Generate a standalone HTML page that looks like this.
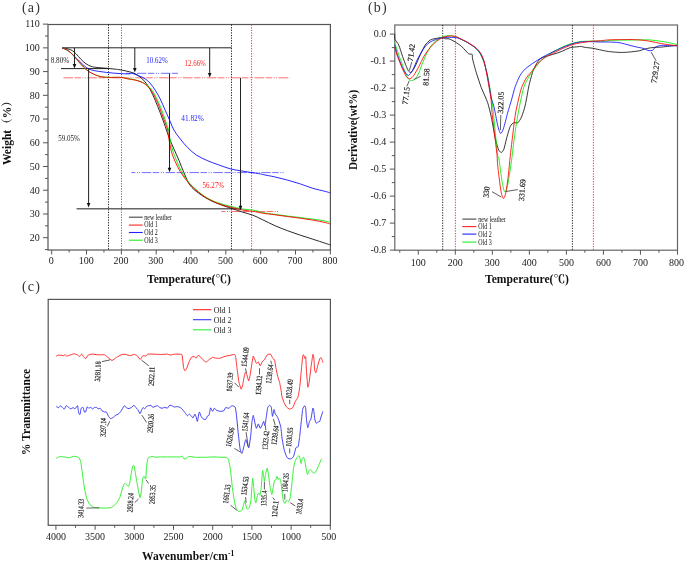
<!DOCTYPE html>
<html><head><meta charset="utf-8"><title>Figure</title>
<style>html,body{margin:0;padding:0;background:#fff}svg{display:block;font-family:"Liberation Serif",serif}</style>
</head><body>
<svg width="685" height="562" viewBox="0 0 685 562">
<rect width="685" height="562" fill="#fff"/>
<rect x="48.0" y="24.5" width="282.4" height="225.5" fill="none" stroke="#555" stroke-width="1.2"/>
<line x1="43.00" y1="237.70" x2="48.00" y2="237.70" stroke="#555" stroke-width="1" />
<text x="39.80" y="241.00" font-size="10" text-anchor="end" fill="#222" >20</text>
<line x1="43.00" y1="213.97" x2="48.00" y2="213.97" stroke="#555" stroke-width="1" />
<text x="39.80" y="217.27" font-size="10" text-anchor="end" fill="#222" >30</text>
<line x1="43.00" y1="190.24" x2="48.00" y2="190.24" stroke="#555" stroke-width="1" />
<text x="39.80" y="193.54" font-size="10" text-anchor="end" fill="#222" >40</text>
<line x1="43.00" y1="166.51" x2="48.00" y2="166.51" stroke="#555" stroke-width="1" />
<text x="39.80" y="169.81" font-size="10" text-anchor="end" fill="#222" >50</text>
<line x1="43.00" y1="142.78" x2="48.00" y2="142.78" stroke="#555" stroke-width="1" />
<text x="39.80" y="146.08" font-size="10" text-anchor="end" fill="#222" >60</text>
<line x1="43.00" y1="119.05" x2="48.00" y2="119.05" stroke="#555" stroke-width="1" />
<text x="39.80" y="122.35" font-size="10" text-anchor="end" fill="#222" >70</text>
<line x1="43.00" y1="95.32" x2="48.00" y2="95.32" stroke="#555" stroke-width="1" />
<text x="39.80" y="98.62" font-size="10" text-anchor="end" fill="#222" >80</text>
<line x1="43.00" y1="71.59" x2="48.00" y2="71.59" stroke="#555" stroke-width="1" />
<text x="39.80" y="74.89" font-size="10" text-anchor="end" fill="#222" >90</text>
<line x1="43.00" y1="47.86" x2="48.00" y2="47.86" stroke="#555" stroke-width="1" />
<text x="39.80" y="51.16" font-size="10" text-anchor="end" fill="#222" >100</text>
<line x1="43.00" y1="24.13" x2="48.00" y2="24.13" stroke="#555" stroke-width="1" />
<text x="39.80" y="27.43" font-size="10" text-anchor="end" fill="#222" >110</text>
<line x1="45.00" y1="249.56" x2="48.00" y2="249.56" stroke="#555" stroke-width="1" />
<line x1="45.00" y1="225.83" x2="48.00" y2="225.83" stroke="#555" stroke-width="1" />
<line x1="45.00" y1="202.10" x2="48.00" y2="202.10" stroke="#555" stroke-width="1" />
<line x1="45.00" y1="178.38" x2="48.00" y2="178.38" stroke="#555" stroke-width="1" />
<line x1="45.00" y1="154.64" x2="48.00" y2="154.64" stroke="#555" stroke-width="1" />
<line x1="45.00" y1="130.91" x2="48.00" y2="130.91" stroke="#555" stroke-width="1" />
<line x1="45.00" y1="107.18" x2="48.00" y2="107.18" stroke="#555" stroke-width="1" />
<line x1="45.00" y1="83.45" x2="48.00" y2="83.45" stroke="#555" stroke-width="1" />
<line x1="45.00" y1="59.72" x2="48.00" y2="59.72" stroke="#555" stroke-width="1" />
<line x1="45.00" y1="35.99" x2="48.00" y2="35.99" stroke="#555" stroke-width="1" />
<line x1="51.70" y1="250.00" x2="51.70" y2="254.50" stroke="#555" stroke-width="1" />
<text x="51.30" y="264.20" font-size="10" text-anchor="middle" fill="#222" >0</text>
<line x1="86.53" y1="250.00" x2="86.53" y2="254.50" stroke="#555" stroke-width="1" />
<text x="86.13" y="264.20" font-size="10" text-anchor="middle" fill="#222" >100</text>
<line x1="121.36" y1="250.00" x2="121.36" y2="254.50" stroke="#555" stroke-width="1" />
<text x="120.96" y="264.20" font-size="10" text-anchor="middle" fill="#222" >200</text>
<line x1="156.19" y1="250.00" x2="156.19" y2="254.50" stroke="#555" stroke-width="1" />
<text x="155.79" y="264.20" font-size="10" text-anchor="middle" fill="#222" >300</text>
<line x1="191.02" y1="250.00" x2="191.02" y2="254.50" stroke="#555" stroke-width="1" />
<text x="190.62" y="264.20" font-size="10" text-anchor="middle" fill="#222" >400</text>
<line x1="225.85" y1="250.00" x2="225.85" y2="254.50" stroke="#555" stroke-width="1" />
<text x="225.45" y="264.20" font-size="10" text-anchor="middle" fill="#222" >500</text>
<line x1="260.68" y1="250.00" x2="260.68" y2="254.50" stroke="#555" stroke-width="1" />
<text x="260.28" y="264.20" font-size="10" text-anchor="middle" fill="#222" >600</text>
<line x1="295.51" y1="250.00" x2="295.51" y2="254.50" stroke="#555" stroke-width="1" />
<text x="295.11" y="264.20" font-size="10" text-anchor="middle" fill="#222" >700</text>
<line x1="330.34" y1="250.00" x2="330.34" y2="254.50" stroke="#555" stroke-width="1" />
<text x="329.94" y="264.20" font-size="10" text-anchor="middle" fill="#222" >800</text>
<line x1="69.12" y1="250.00" x2="69.12" y2="252.50" stroke="#555" stroke-width="1" />
<line x1="103.94" y1="250.00" x2="103.94" y2="252.50" stroke="#555" stroke-width="1" />
<line x1="138.78" y1="250.00" x2="138.78" y2="252.50" stroke="#555" stroke-width="1" />
<line x1="173.61" y1="250.00" x2="173.61" y2="252.50" stroke="#555" stroke-width="1" />
<line x1="208.44" y1="250.00" x2="208.44" y2="252.50" stroke="#555" stroke-width="1" />
<line x1="243.26" y1="250.00" x2="243.26" y2="252.50" stroke="#555" stroke-width="1" />
<line x1="278.10" y1="250.00" x2="278.10" y2="252.50" stroke="#555" stroke-width="1" />
<line x1="312.93" y1="250.00" x2="312.93" y2="252.50" stroke="#555" stroke-width="1" />
<line x1="108.50" y1="24.50" x2="108.50" y2="250.00" stroke="#111" stroke-width="1" stroke-dasharray="1.3 1.3" stroke-opacity="0.9"/>
<line x1="121.50" y1="24.50" x2="121.50" y2="250.00" stroke="#f22" stroke-width="1" stroke-dasharray="1.3 1.3" stroke-opacity="0.9"/>
<line x1="231.50" y1="24.50" x2="231.50" y2="250.00" stroke="#111" stroke-width="1" stroke-dasharray="1.3 1.3" stroke-opacity="0.9"/>
<line x1="251.60" y1="24.50" x2="251.60" y2="250.00" stroke="#f22" stroke-width="1" stroke-dasharray="1.3 1.3" stroke-opacity="0.9"/>
<line x1="62.30" y1="47.80" x2="231.50" y2="47.80" stroke="#222" stroke-width="1" />
<line x1="61.00" y1="68.60" x2="108.50" y2="68.60" stroke="#222" stroke-width="1" />
<line x1="76.60" y1="208.80" x2="240.50" y2="208.80" stroke="#666" stroke-width="1.4" />
<line x1="63.50" y1="77.80" x2="290.00" y2="77.80" stroke="#f22" stroke-width="0.9" stroke-dasharray="9.5 1.5 6.5 1.6 1 1.2 1 1.6" stroke-opacity="0.72"/>
<line x1="126.00" y1="73.30" x2="178.00" y2="73.30" stroke="#22f" stroke-width="0.9" stroke-dasharray="9.5 1.5 6.5 1.6 1 1.2 1 1.6" stroke-opacity="0.72" stroke-dashoffset="13"/>
<line x1="131.30" y1="172.60" x2="283.70" y2="172.60" stroke="#22f" stroke-width="0.9" stroke-dasharray="9.5 1.5 6.5 1.6 1 1.2 1 1.6" stroke-opacity="0.72" stroke-dashoffset="13.5"/>
<line x1="221.40" y1="211.50" x2="278.80" y2="211.50" stroke="#f22" stroke-width="0.9" stroke-dasharray="9.5 1.5 6.5 1.6 1 1.2 1 1.6" stroke-opacity="0.72" stroke-dashoffset="13.5"/>
<path d="M62.28,48.16 C63.32,48.31 66.88,48.62 68.55,49.04 C70.23,49.46 71.07,49.88 72.32,50.67 C73.58,51.47 74.62,52.35 76.09,53.81 C77.55,55.28 79.44,57.79 81.11,59.46 C82.78,61.13 84.46,62.70 86.13,63.85 C87.81,65.01 89.48,65.78 91.15,66.37 C92.83,66.95 93.66,67.06 96.18,67.37 C98.69,67.68 103.08,67.96 106.22,68.25 C109.36,68.54 112.71,68.87 115.01,69.13 C117.30,69.38 118.12,69.47 120.00,69.79 C121.88,70.11 123.98,70.48 126.28,71.05 C128.58,71.61 131.51,72.20 133.81,73.18 C136.11,74.17 138.20,75.48 140.09,76.95 C141.97,78.41 143.44,79.88 145.11,81.97 C146.78,84.06 148.46,86.47 150.13,89.50 C151.81,92.54 153.48,96.30 155.15,100.18 C156.83,104.05 158.71,108.96 160.18,112.73 C161.64,116.50 162.90,119.89 163.94,122.77 C164.99,125.66 165.42,127.17 166.45,130.06 C167.48,132.94 168.89,136.95 170.13,140.09 C171.37,143.22 172.43,145.53 173.90,148.88 C175.36,152.22 177.25,156.20 178.92,160.18 C180.59,164.15 182.09,168.57 183.94,172.73 C185.80,176.89 187.56,181.72 190.04,185.15 C192.53,188.58 195.28,190.70 198.83,193.31 C202.39,195.93 207.20,198.75 211.39,200.85 C215.57,202.94 220.39,204.55 223.94,205.87 C227.50,207.19 229.59,207.71 232.73,208.76 C235.87,209.80 239.43,211.08 242.77,212.15 C246.12,213.21 249.52,213.90 252.82,215.16 C256.12,216.42 258.84,217.95 262.55,219.71 C266.27,221.47 270.92,223.90 275.11,225.74 C279.29,227.58 283.48,229.19 287.66,230.76 C291.85,232.33 296.03,233.75 300.22,235.15 C304.40,236.56 308.59,237.81 312.77,239.17 C316.96,240.53 322.40,242.35 325.33,243.31 C328.26,244.28 329.51,244.67 330.35,244.95" fill="none" stroke="#111" stroke-width="0.9" stroke-linejoin="round" />
<path d="M62.28,48.16 C62.91,48.37 64.79,48.79 66.04,49.42 C67.30,50.04 68.55,50.92 69.81,51.93 C71.07,52.93 72.32,54.25 73.58,55.44 C74.83,56.64 76.09,57.85 77.34,59.08 C78.60,60.32 79.65,61.47 81.11,62.85 C82.57,64.23 84.46,66.20 86.13,67.37 C87.81,68.54 89.06,69.21 91.15,69.88 C93.25,70.55 96.18,70.97 98.69,71.39 C101.20,71.81 103.71,72.10 106.22,72.39 C108.73,72.68 111.24,72.94 113.75,73.15 C116.26,73.35 118.77,73.52 121.29,73.65 C123.80,73.77 126.94,73.91 128.82,73.90 C130.70,73.88 130.68,73.16 132.55,73.56 C134.43,73.96 138.00,75.44 140.09,76.32 C142.18,77.20 143.44,77.68 145.11,78.83 C146.78,79.98 148.46,81.34 150.13,83.23 C151.81,85.11 153.48,87.52 155.15,90.13 C156.83,92.75 158.50,95.57 160.18,98.92 C161.85,102.27 163.52,106.45 165.20,110.22 C166.87,113.99 168.77,118.22 170.22,121.52 C171.67,124.82 172.24,127.16 173.90,130.04 C175.56,132.93 177.87,135.90 180.18,138.83 C182.48,141.76 184.99,144.90 187.71,147.62 C190.43,150.34 193.15,152.96 196.50,155.15 C199.85,157.35 204.24,159.23 207.80,160.80 C211.35,162.37 214.10,163.23 217.84,164.57 C221.58,165.91 226.48,167.81 230.22,168.83 C233.96,169.86 236.92,170.13 240.26,170.72 C243.61,171.30 246.96,171.82 250.31,172.35 C253.66,172.87 258.31,173.50 260.35,173.85 C262.39,174.21 260.10,173.96 262.55,174.48 C265.01,175.01 270.92,176.05 275.11,176.99 C279.29,177.93 283.48,178.98 287.66,180.13 C291.85,181.28 296.03,182.54 300.22,183.90 C304.40,185.26 308.59,187.04 312.77,188.29 C316.96,189.55 322.40,190.66 325.33,191.43 C328.26,192.21 329.51,192.69 330.35,192.94" fill="none" stroke="#11f" stroke-width="0.9" stroke-linejoin="round" />
<path d="M62.28,48.16 C62.91,48.37 64.79,48.79 66.04,49.42 C67.30,50.04 68.55,50.88 69.81,51.93 C71.07,52.97 72.32,54.33 73.58,55.69 C74.83,57.05 76.09,58.62 77.34,60.09 C78.60,61.55 79.65,62.91 81.11,64.48 C82.57,66.05 84.46,68.10 86.13,69.50 C87.81,70.91 89.48,71.95 91.15,72.89 C92.83,73.84 94.50,74.53 96.18,75.15 C97.85,75.78 99.11,76.28 101.20,76.66 C103.29,77.04 105.38,77.29 108.73,77.41 C112.08,77.54 118.15,77.22 121.29,77.41 C124.42,77.61 125.24,78.18 127.53,78.58 C129.83,78.99 132.55,79.21 135.07,79.84 C137.58,80.46 140.40,81.30 142.60,82.35 C144.80,83.39 146.41,84.40 148.25,86.11 C150.09,87.83 151.91,89.88 153.65,92.64 C155.38,95.40 157.16,99.34 158.67,102.69 C160.18,106.03 161.43,109.38 162.69,112.73 C163.94,116.08 165.20,119.89 166.20,122.77 C167.21,125.66 168.16,127.80 168.71,130.06 C169.26,132.31 168.85,132.98 169.50,136.32 C170.16,139.67 171.49,146.16 172.64,150.13 C173.79,154.11 174.94,156.62 176.41,160.18 C177.87,163.73 179.65,168.17 181.43,171.48 C183.21,174.78 185.16,177.46 187.08,180.01 C189.01,182.57 189.98,184.01 192.98,186.79 C195.99,189.57 201.00,194.05 205.11,196.70 C209.22,199.36 213.48,201.14 217.66,202.73 C221.85,204.32 226.03,205.20 230.22,206.25 C234.40,207.29 238.59,208.30 242.77,209.01 C246.96,209.72 252.03,209.92 255.33,210.51 C258.63,211.11 259.26,211.90 262.55,212.55 C265.85,213.21 270.92,213.85 275.11,214.44 C279.29,215.02 283.48,215.55 287.66,216.07 C291.85,216.59 296.03,217.07 300.22,217.58 C304.40,218.08 308.59,218.50 312.77,219.08 C316.96,219.67 322.40,220.55 325.33,221.09 C328.26,221.64 329.51,222.14 330.35,222.35" fill="none" stroke="#0e0" stroke-width="0.9" stroke-linejoin="round" />
<path d="M62.28,48.16 C62.91,48.37 64.79,48.79 66.04,49.42 C67.30,50.04 68.55,50.88 69.81,51.93 C71.07,52.97 72.32,54.33 73.58,55.69 C74.83,57.05 76.09,58.62 77.34,60.09 C78.60,61.55 79.65,62.91 81.11,64.48 C82.57,66.05 84.46,68.10 86.13,69.50 C87.81,70.91 89.48,71.95 91.15,72.89 C92.83,73.84 94.50,74.53 96.18,75.15 C97.85,75.78 99.11,76.28 101.20,76.66 C103.29,77.04 105.38,77.29 108.73,77.41 C112.08,77.54 118.15,77.18 121.29,77.41 C124.42,77.65 125.24,78.39 127.53,78.83 C129.83,79.28 132.55,79.46 135.07,80.09 C137.58,80.72 140.51,81.55 142.60,82.60 C144.69,83.65 145.95,84.69 147.62,86.37 C149.29,88.04 150.97,89.92 152.64,92.64 C154.32,95.36 156.20,99.34 157.66,102.69 C159.13,106.03 160.18,109.38 161.43,112.73 C162.69,116.08 164.15,119.89 165.20,122.77 C166.24,125.66 167.20,128.01 167.71,130.06 C168.22,132.11 167.64,131.51 168.25,135.07 C168.86,138.62 170.24,146.99 171.39,151.39 C172.54,155.78 173.69,158.08 175.15,161.43 C176.62,164.78 178.29,168.34 180.18,171.48 C182.06,174.61 184.36,177.65 186.45,180.26 C188.55,182.88 189.62,184.37 192.73,187.17 C195.84,189.97 200.95,194.38 205.11,197.08 C209.27,199.78 213.48,201.68 217.66,203.36 C221.85,205.03 226.03,206.02 230.22,207.12 C234.40,208.23 238.59,209.24 242.77,210.01 C246.96,210.79 252.03,211.24 255.33,211.77 C258.63,212.30 259.26,212.68 262.55,213.18 C265.85,213.69 270.92,214.25 275.11,214.81 C279.29,215.38 283.48,216.01 287.66,216.57 C291.85,217.14 296.03,217.62 300.22,218.20 C304.40,218.79 308.59,219.36 312.77,220.09 C316.96,220.82 322.40,221.93 325.33,222.60 C328.26,223.27 329.51,223.85 330.35,224.11" fill="none" stroke="#f00" stroke-width="0.9" stroke-linejoin="round" />
<line x1="74.50" y1="47.80" x2="74.50" y2="65.40" stroke="#222" stroke-width="1" />
<path d="M72.70,63.90 L76.30,63.90 L74.50,68.40 Z" fill="#111"/>
<line x1="88.60" y1="68.60" x2="88.60" y2="204.50" stroke="#222" stroke-width="1" />
<path d="M86.80,203.00 L90.40,203.00 L88.60,207.50 Z" fill="#111"/>
<line x1="134.80" y1="47.80" x2="134.80" y2="69.60" stroke="#222" stroke-width="1" />
<path d="M133.00,68.10 L136.60,68.10 L134.80,72.60 Z" fill="#111"/>
<line x1="209.70" y1="47.80" x2="209.70" y2="74.40" stroke="#222" stroke-width="1" />
<path d="M207.90,72.90 L211.50,72.90 L209.70,77.40 Z" fill="#111"/>
<line x1="169.50" y1="73.30" x2="169.50" y2="169.20" stroke="#222" stroke-width="1" />
<path d="M167.70,167.70 L171.30,167.70 L169.50,172.20 Z" fill="#111"/>
<line x1="240.50" y1="77.80" x2="240.50" y2="207.30" stroke="#222" stroke-width="1" />
<path d="M238.70,205.80 L242.30,205.80 L240.50,210.30 Z" fill="#111"/>
<text x="60.00" y="63.00" font-size="8" text-anchor="middle" fill="#222" textLength="18.5" lengthAdjust="spacingAndGlyphs" >8.80%</text>
<text x="69.00" y="141.30" font-size="8" text-anchor="middle" fill="#222" textLength="21.6" lengthAdjust="spacingAndGlyphs" >59.05%</text>
<text x="157.00" y="62.50" font-size="8" text-anchor="middle" fill="#22f" textLength="21.3" lengthAdjust="spacingAndGlyphs" >10.62%</text>
<text x="195.20" y="65.50" font-size="8" text-anchor="middle" fill="#f22" textLength="21.3" lengthAdjust="spacingAndGlyphs" >12.66%</text>
<text x="192.60" y="120.70" font-size="8" text-anchor="middle" fill="#22f" textLength="22.5" lengthAdjust="spacingAndGlyphs" >41.82%</text>
<text x="213.40" y="187.90" font-size="8" text-anchor="middle" fill="#f22" textLength="21.6" lengthAdjust="spacingAndGlyphs" >56.27%</text>
<line x1="128.90" y1="217.20" x2="142.70" y2="217.20" stroke="#444" stroke-width="1.1" />
<text x="144.30" y="219.50" font-size="7.6" text-anchor="start" fill="#111" textLength="27.6" lengthAdjust="spacingAndGlyphs" >new leather</text>
<line x1="128.90" y1="225.10" x2="142.70" y2="225.10" stroke="#f22" stroke-width="1.1" />
<text x="144.30" y="227.40" font-size="7.6" text-anchor="start" fill="#111" textLength="13.5" lengthAdjust="spacingAndGlyphs" >Old 1</text>
<line x1="128.90" y1="232.50" x2="142.70" y2="232.50" stroke="#22f" stroke-width="1.1" />
<text x="144.30" y="234.80" font-size="7.6" text-anchor="start" fill="#111" textLength="13.5" lengthAdjust="spacingAndGlyphs" >Old 2</text>
<line x1="128.90" y1="240.20" x2="142.70" y2="240.20" stroke="#2e2" stroke-width="1.1" />
<text x="144.30" y="242.50" font-size="7.6" text-anchor="start" fill="#111" textLength="13.5" lengthAdjust="spacingAndGlyphs" >Old 3</text>
<text x="189.00" y="283.00" font-size="11.5" text-anchor="middle" fill="#111" font-weight="bold" textLength="84.0" lengthAdjust="spacingAndGlyphs" font-family="Liberation Serif, Noto Serif CJK SC, serif">Temperature(℃)</text>
<text transform="translate(11 165) rotate(-90)" font-size="11.5" font-weight="bold" fill="#111" font-family="Liberation Serif, Noto Serif CJK SC, serif">Weight（%）</text>
<text x="22" y="12.3" font-size="14" fill="#333" letter-spacing="1.2">(a)</text>
<rect x="394.8" y="25.0" width="282.7" height="225.2" fill="none" stroke="#666" stroke-width="1.2"/>
<line x1="389.80" y1="34.10" x2="394.80" y2="34.10" stroke="#555" stroke-width="1" />
<text x="386.30" y="37.40" font-size="10" text-anchor="end" fill="#222" >0.0</text>
<line x1="389.80" y1="61.10" x2="394.80" y2="61.10" stroke="#555" stroke-width="1" />
<text x="386.30" y="64.40" font-size="10" text-anchor="end" fill="#222" >-0.1</text>
<line x1="389.80" y1="88.10" x2="394.80" y2="88.10" stroke="#555" stroke-width="1" />
<text x="386.30" y="91.40" font-size="10" text-anchor="end" fill="#222" >-0.2</text>
<line x1="389.80" y1="115.10" x2="394.80" y2="115.10" stroke="#555" stroke-width="1" />
<text x="386.30" y="118.40" font-size="10" text-anchor="end" fill="#222" >-0.3</text>
<line x1="389.80" y1="142.10" x2="394.80" y2="142.10" stroke="#555" stroke-width="1" />
<text x="386.30" y="145.40" font-size="10" text-anchor="end" fill="#222" >-0.4</text>
<line x1="389.80" y1="169.10" x2="394.80" y2="169.10" stroke="#555" stroke-width="1" />
<text x="386.30" y="172.40" font-size="10" text-anchor="end" fill="#222" >-0.5</text>
<line x1="389.80" y1="196.10" x2="394.80" y2="196.10" stroke="#555" stroke-width="1" />
<text x="386.30" y="199.40" font-size="10" text-anchor="end" fill="#222" >-0.6</text>
<line x1="389.80" y1="223.10" x2="394.80" y2="223.10" stroke="#555" stroke-width="1" />
<text x="386.30" y="226.40" font-size="10" text-anchor="end" fill="#222" >-0.7</text>
<line x1="389.80" y1="250.10" x2="394.80" y2="250.10" stroke="#555" stroke-width="1" />
<text x="386.30" y="253.40" font-size="10" text-anchor="end" fill="#222" >-0.8</text>
<line x1="391.80" y1="47.60" x2="394.80" y2="47.60" stroke="#555" stroke-width="1" />
<line x1="391.80" y1="74.60" x2="394.80" y2="74.60" stroke="#555" stroke-width="1" />
<line x1="391.80" y1="101.60" x2="394.80" y2="101.60" stroke="#555" stroke-width="1" />
<line x1="391.80" y1="128.60" x2="394.80" y2="128.60" stroke="#555" stroke-width="1" />
<line x1="391.80" y1="155.60" x2="394.80" y2="155.60" stroke="#555" stroke-width="1" />
<line x1="391.80" y1="182.60" x2="394.80" y2="182.60" stroke="#555" stroke-width="1" />
<line x1="391.80" y1="209.60" x2="394.80" y2="209.60" stroke="#555" stroke-width="1" />
<line x1="391.80" y1="236.60" x2="394.80" y2="236.60" stroke="#555" stroke-width="1" />
<line x1="418.27" y1="250.20" x2="418.27" y2="254.70" stroke="#555" stroke-width="1" />
<text x="418.27" y="265.90" font-size="10" text-anchor="middle" fill="#222" >100</text>
<line x1="455.30" y1="250.20" x2="455.30" y2="254.70" stroke="#555" stroke-width="1" />
<text x="455.30" y="265.90" font-size="10" text-anchor="middle" fill="#222" >200</text>
<line x1="492.33" y1="250.20" x2="492.33" y2="254.70" stroke="#555" stroke-width="1" />
<text x="492.33" y="265.90" font-size="10" text-anchor="middle" fill="#222" >300</text>
<line x1="529.36" y1="250.20" x2="529.36" y2="254.70" stroke="#555" stroke-width="1" />
<text x="529.36" y="265.90" font-size="10" text-anchor="middle" fill="#222" >400</text>
<line x1="566.39" y1="250.20" x2="566.39" y2="254.70" stroke="#555" stroke-width="1" />
<text x="566.39" y="265.90" font-size="10" text-anchor="middle" fill="#222" >500</text>
<line x1="603.42" y1="250.20" x2="603.42" y2="254.70" stroke="#555" stroke-width="1" />
<text x="603.42" y="265.90" font-size="10" text-anchor="middle" fill="#222" >600</text>
<line x1="640.45" y1="250.20" x2="640.45" y2="254.70" stroke="#555" stroke-width="1" />
<text x="640.45" y="265.90" font-size="10" text-anchor="middle" fill="#222" >700</text>
<line x1="677.48" y1="250.20" x2="677.48" y2="254.70" stroke="#555" stroke-width="1" />
<text x="676.48" y="265.90" font-size="10" text-anchor="middle" fill="#222" >800</text>
<line x1="399.75" y1="250.20" x2="399.75" y2="252.70" stroke="#555" stroke-width="1" />
<line x1="436.79" y1="250.20" x2="436.79" y2="252.70" stroke="#555" stroke-width="1" />
<line x1="473.81" y1="250.20" x2="473.81" y2="252.70" stroke="#555" stroke-width="1" />
<line x1="510.85" y1="250.20" x2="510.85" y2="252.70" stroke="#555" stroke-width="1" />
<line x1="547.88" y1="250.20" x2="547.88" y2="252.70" stroke="#555" stroke-width="1" />
<line x1="584.90" y1="250.20" x2="584.90" y2="252.70" stroke="#555" stroke-width="1" />
<line x1="621.94" y1="250.20" x2="621.94" y2="252.70" stroke="#555" stroke-width="1" />
<line x1="658.97" y1="250.20" x2="658.97" y2="252.70" stroke="#555" stroke-width="1" />
<line x1="442.70" y1="25.00" x2="442.70" y2="250.20" stroke="#111" stroke-width="1" stroke-dasharray="1.3 1.3" stroke-opacity="0.9"/>
<line x1="455.40" y1="25.00" x2="455.40" y2="250.20" stroke="#f22" stroke-width="1" stroke-dasharray="1.3 1.3" stroke-opacity="0.9"/>
<line x1="572.40" y1="25.00" x2="572.40" y2="250.20" stroke="#111" stroke-width="1" stroke-dasharray="1.3 1.3" stroke-opacity="0.9"/>
<line x1="593.40" y1="25.00" x2="593.40" y2="250.20" stroke="#f22" stroke-width="1" stroke-dasharray="1.3 1.3" stroke-opacity="0.9"/>
<path d="M394.77,34.44 C394.80,35.02 394.55,38.22 395.02,39.46 C395.49,40.71 397.91,43.13 398.79,45.11 C399.67,47.09 401.68,53.92 402.55,56.41 C403.43,58.90 405.59,64.70 406.32,66.45 C407.05,68.21 408.25,70.82 408.83,71.48 C409.42,72.13 410.61,72.69 411.34,72.10 C412.08,71.52 414.08,68.43 415.11,66.45 C416.14,64.48 418.96,57.64 420.13,55.15 C421.30,52.66 423.98,46.87 425.15,45.11 C426.33,43.35 429.00,40.85 430.18,40.09 C431.35,39.33 433.73,38.87 435.20,38.58 C436.66,38.29 441.56,37.55 442.73,37.58 C443.90,37.61 444.51,38.69 445.24,38.83 C445.97,38.98 447.84,38.47 449.01,38.83 C450.18,39.20 453.82,41.09 455.29,41.97 C456.75,42.85 460.43,45.42 461.56,46.37 C462.70,47.31 464.18,49.21 465.02,50.09 C465.86,50.96 467.95,53.34 468.79,53.85 C469.62,54.37 471.74,53.90 472.18,54.48 C472.62,55.07 472.07,56.75 472.55,58.88 C473.04,61.00 475.30,69.32 476.32,72.69 C477.35,76.06 480.03,84.27 481.34,87.75 C482.66,91.24 486.45,99.07 487.62,102.55 C488.79,106.04 490.51,113.52 491.39,117.62 C492.27,121.72 494.35,134.05 495.15,137.71 C495.96,141.37 497.59,147.28 498.29,149.01 C499.00,150.74 500.52,152.52 501.18,152.52 C501.84,152.52 503.33,150.59 503.94,149.01 C504.56,147.43 505.72,141.60 506.45,138.96 C507.19,136.33 509.34,128.31 510.22,126.41 C511.10,124.51 513.11,123.05 513.99,122.64 C514.87,122.23 516.87,123.55 517.75,122.89 C518.63,122.23 520.64,119.07 521.52,116.99 C522.40,114.91 524.41,108.77 525.29,105.07 C526.16,101.36 528.17,89.17 529.05,85.24 C529.93,81.32 532.12,73.62 532.82,71.43 C533.52,69.24 534.33,67.81 535.02,66.50 C535.72,65.19 537.91,61.27 538.79,60.22 C539.67,59.17 541.24,58.04 542.55,57.46 C543.87,56.87 548.04,55.83 550.09,55.20 C552.14,54.57 557.79,52.94 560.13,52.06 C562.48,51.18 568.13,48.28 570.18,47.66 C572.23,47.05 576.46,46.93 577.71,46.79 C578.95,46.64 579.97,46.34 580.85,46.41 C581.73,46.48 583.85,47.19 585.24,47.41 C586.63,47.63 590.29,47.85 592.77,48.29 C595.26,48.73 604.05,50.74 606.53,51.18 C609.02,51.62 612.31,51.91 614.07,52.06 C615.82,52.21 619.84,52.44 621.60,52.44 C623.36,52.44 627.08,52.25 629.13,52.06 C631.18,51.87 637.42,51.14 639.18,50.80 C640.93,50.47 642.73,49.54 644.20,49.17 C645.66,48.81 649.68,47.91 651.73,47.66 C653.78,47.42 659.72,47.21 661.77,47.04 C663.83,46.86 667.55,46.38 669.31,46.16 C671.07,45.94 675.96,45.27 676.84,45.15" fill="none" stroke="#111" stroke-width="0.85" stroke-linejoin="round" />
<path d="M394.77,42.60 C395.14,43.77 396.50,48.37 397.53,51.39 C398.57,54.40 401.22,61.68 402.55,65.20 C403.89,68.71 406.41,75.71 407.58,77.75 C408.75,79.79 410.34,80.35 411.34,80.51 C412.35,80.68 414.11,80.05 415.11,79.01 C416.11,77.97 417.87,74.91 418.88,72.73 C419.88,70.55 421.47,65.53 422.64,62.69 C423.81,59.84 426.33,53.90 427.66,51.39 C429.00,48.88 431.35,45.44 432.69,43.85 C434.03,42.26 436.20,40.46 437.71,39.46 C439.22,38.46 442.31,36.82 443.99,36.32 C445.66,35.82 448.59,35.61 450.26,35.69 C451.94,35.78 455.24,36.54 456.54,36.95 C457.84,37.36 458.53,38.04 460.00,38.79 C461.47,39.54 465.56,41.38 467.53,42.55 C469.51,43.73 473.17,46.15 474.81,47.58 C476.46,49.00 478.66,51.39 479.84,53.23 C481.01,55.07 482.62,58.63 483.60,61.39 C484.59,64.15 486.41,70.43 487.24,73.94 C488.08,77.46 489.28,84.40 489.88,87.75 C490.48,91.10 491.31,95.91 491.76,99.05 C492.22,102.20 492.73,106.19 493.27,111.34 C493.81,116.50 495.20,131.85 495.78,137.71 C496.37,143.57 497.25,152.47 497.66,155.29 C498.08,158.10 498.33,155.35 498.92,158.83 C499.51,162.32 501.31,177.05 502.06,181.43 C502.81,185.82 503.90,190.89 504.57,191.73 C505.24,192.56 506.41,190.09 507.08,187.71 C507.75,185.33 508.92,178.08 509.59,173.90 C510.26,169.71 511.52,160.81 512.10,156.32 C512.69,151.83 513.32,145.21 513.99,140.22 C514.66,135.23 516.29,123.90 517.12,118.88 C517.96,113.85 519.34,106.87 520.26,102.55 C521.18,98.24 522.86,89.98 524.03,86.50 C525.20,83.02 527.55,78.96 529.05,76.45 C530.56,73.94 534.53,68.82 535.33,67.66 C536.13,66.50 534.06,68.91 535.02,67.75 C535.99,66.59 539.88,61.22 542.55,58.96 C545.23,56.70 552.10,52.56 555.11,50.80 C558.12,49.05 562.81,46.79 565.15,45.78 C567.50,44.78 570.68,43.82 572.69,43.27 C574.70,42.72 577.88,41.92 580.22,41.64 C582.56,41.35 586.92,41.20 590.26,41.14 C593.61,41.07 602.83,41.24 605.33,41.14 C607.83,41.04 606.54,40.52 609.04,40.38 C611.55,40.25 620.09,40.20 624.11,40.13 C628.13,40.06 635.83,39.91 639.18,39.88 C642.52,39.85 646.21,39.68 649.22,39.88 C652.23,40.08 658.76,40.94 661.77,41.39 C664.79,41.84 669.81,42.85 671.82,43.27 C673.83,43.69 676.17,44.36 676.84,44.53" fill="none" stroke="#0e0" stroke-width="0.85" stroke-linejoin="round" />
<path d="M394.77,45.11 C395.14,46.45 396.50,52.14 397.53,55.15 C398.57,58.17 401.38,65.20 402.55,67.71 C403.73,70.22 405.48,72.98 406.32,73.99 C407.16,74.99 408.00,75.74 408.83,75.24 C409.67,74.74 411.43,72.40 412.60,70.22 C413.77,68.04 416.28,61.60 417.62,58.92 C418.96,56.24 421.30,52.14 422.64,50.13 C423.98,48.12 426.33,45.11 427.66,43.85 C429.00,42.60 431.01,41.47 432.69,40.72 C434.36,39.96 438.21,38.66 440.22,38.20 C442.23,37.75 445.74,37.41 447.75,37.33 C449.76,37.24 453.65,37.38 455.29,37.58 C456.92,37.77 458.37,38.12 460.00,38.79 C461.63,39.45 465.52,41.38 467.53,42.55 C469.54,43.73 473.39,46.15 475.07,47.58 C476.74,49.00 478.92,51.39 480.09,53.23 C481.26,55.07 482.93,58.63 483.85,61.39 C484.78,64.15 486.24,70.43 486.99,73.94 C487.75,77.46 488.92,84.40 489.50,87.75 C490.09,91.10 490.80,96.58 491.39,99.05 C491.97,101.53 493.06,102.84 493.90,106.32 C494.74,109.80 496.79,121.55 497.66,125.15 C498.54,128.75 499.67,132.81 500.43,133.31 C501.18,133.82 502.34,131.68 503.31,128.92 C504.29,126.16 506.62,116.45 507.71,112.60 C508.80,108.75 510.47,103.52 511.48,100.04 C512.48,96.56 514.07,89.81 515.24,86.50 C516.41,83.18 518.92,77.54 520.26,75.20 C521.60,72.85 523.61,70.51 525.29,68.92 C526.96,67.33 531.19,64.43 532.82,63.27 C534.45,62.11 535.90,61.21 537.53,60.22 C539.17,59.23 542.72,57.08 545.07,55.83 C547.41,54.57 552.43,52.06 555.11,50.80 C557.79,49.55 562.81,47.36 565.15,46.41 C567.50,45.46 570.68,44.23 572.69,43.65 C574.70,43.06 577.88,42.28 580.22,42.02 C582.56,41.75 587.59,41.64 590.26,41.64 C592.94,41.64 597.80,41.96 600.31,42.02 C602.81,42.07 606.54,41.93 609.04,42.02 C611.55,42.10 616.41,42.22 619.09,42.64 C621.77,43.06 626.79,44.57 629.13,45.15 C631.48,45.74 634.82,46.62 636.66,47.04 C638.51,47.46 641.44,47.84 642.94,48.29 C644.45,48.74 646.71,50.14 647.96,50.43 C649.22,50.71 651.35,50.88 652.36,50.43 C653.36,49.97 654.24,47.71 655.50,47.04 C656.75,46.37 659.93,45.57 661.77,45.40 C663.62,45.24 667.30,45.73 669.31,45.78 C671.32,45.83 675.84,45.78 676.84,45.78" fill="none" stroke="#11f" stroke-width="0.85" stroke-linejoin="round" />
<path d="M394.77,47.62 C395.14,48.79 396.50,53.56 397.53,56.41 C398.57,59.26 401.38,66.29 402.55,68.96 C403.73,71.64 405.32,75.19 406.32,76.50 C407.33,77.80 409.08,78.92 410.09,78.76 C411.09,78.59 412.68,76.88 413.85,75.24 C415.03,73.60 417.54,68.96 418.88,66.45 C420.22,63.94 422.39,58.92 423.90,56.41 C425.40,53.90 428.50,49.63 430.18,47.62 C431.85,45.61 434.78,42.68 436.45,41.34 C438.13,40.00 441.06,38.28 442.73,37.58 C444.40,36.87 447.33,36.24 449.01,36.07 C450.68,35.90 453.82,35.99 455.29,36.32 C456.75,36.65 458.37,37.74 460.00,38.54 C461.63,39.34 465.44,41.10 467.53,42.30 C469.63,43.51 473.94,46.12 475.69,47.58 C477.45,49.03 479.59,51.39 480.72,53.23 C481.84,55.07 483.30,58.63 484.11,61.39 C484.91,64.15 486.07,70.43 486.74,73.94 C487.41,77.46 488.56,84.40 489.13,87.75 C489.70,91.10 490.63,95.74 491.01,99.05 C491.40,102.36 491.55,107.95 492.02,112.60 C492.48,117.25 493.86,128.25 494.53,133.94 C495.20,139.63 496.62,151.13 497.04,155.29 C497.46,159.44 497.16,160.45 497.66,165.11 C498.17,169.77 500.05,185.78 500.80,190.22 C501.56,194.66 502.64,198.05 503.31,198.38 C503.98,198.72 505.16,195.83 505.83,192.73 C506.50,189.63 507.75,180.01 508.34,175.15 C508.92,170.30 509.72,160.98 510.22,156.32 C510.72,151.66 511.43,145.71 512.10,140.22 C512.77,134.72 514.40,120.47 515.24,115.11 C516.08,109.75 517.54,103.69 518.38,100.04 C519.22,96.40 520.43,90.73 521.52,87.75 C522.61,84.77 525.03,80.05 526.54,77.71 C528.05,75.37 531.52,71.84 532.82,70.18 C534.12,68.51 534.81,66.82 536.28,65.24 C537.74,63.66 541.30,60.09 543.81,58.34 C546.32,56.58 552.26,53.52 555.11,52.06 C557.96,50.60 562.81,48.42 565.15,47.41 C567.50,46.41 570.68,45.13 572.69,44.53 C574.70,43.92 577.88,43.31 580.22,42.89 C582.56,42.48 587.59,41.67 590.26,41.39 C592.94,41.10 597.80,40.96 600.31,40.76 C602.81,40.56 605.54,40.05 609.04,39.88 C612.55,39.71 622.60,39.50 626.62,39.50 C630.64,39.50 636.16,39.66 639.18,39.88 C642.19,40.10 646.21,40.63 649.22,41.14 C652.23,41.64 658.76,43.11 661.77,43.65 C664.79,44.18 669.81,44.87 671.82,45.15 C673.83,45.44 676.17,45.70 676.84,45.78" fill="none" stroke="#f00" stroke-width="0.85" stroke-linejoin="round" />
<g transform="translate(411.30 52.60) rotate(-81.6)"><text x="0" y="2.64" font-size="8" text-anchor="middle" fill="#111" stroke="#111" stroke-width="0.15" textLength="17.5" lengthAdjust="spacingAndGlyphs">71.42</text></g>
<line x1="411.80" y1="61.90" x2="409.30" y2="70.70" stroke="#333" stroke-width="0.8" />
<g transform="translate(426.30 77.00) rotate(-85.0)"><text x="0" y="2.64" font-size="8" text-anchor="middle" fill="#111" stroke="#111" stroke-width="0.15" textLength="17.5" lengthAdjust="spacingAndGlyphs">81.58</text></g>
<line x1="413.70" y1="79.50" x2="420.60" y2="76.40" stroke="#333" stroke-width="0.8" />
<g transform="translate(406.10 95.80) rotate(-82.7)"><text x="0" y="2.64" font-size="8" text-anchor="middle" fill="#111" stroke="#111" stroke-width="0.15" textLength="18.0" lengthAdjust="spacingAndGlyphs">77.15</text></g>
<line x1="409.30" y1="80.80" x2="406.80" y2="86.40" stroke="#333" stroke-width="0.8" />
<g transform="translate(500.80 102.60) rotate(-88.0)"><text x="0" y="2.64" font-size="8" text-anchor="middle" fill="#111" stroke="#111" stroke-width="0.15" textLength="22.0" lengthAdjust="spacingAndGlyphs">322.05</text></g>
<line x1="500.80" y1="115.10" x2="500.40" y2="130.20" stroke="#333" stroke-width="0.8" />
<g transform="translate(486.40 192.10) rotate(-84.0)"><text x="0" y="2.64" font-size="8" text-anchor="middle" fill="#111" stroke="#111" stroke-width="0.15" textLength="11.5" lengthAdjust="spacingAndGlyphs">330</text></g>
<line x1="492.00" y1="191.70" x2="501.40" y2="197.10" stroke="#333" stroke-width="0.8" />
<g transform="translate(522.10 190.20) rotate(-86.7)"><text x="0" y="2.64" font-size="8" text-anchor="middle" fill="#111" stroke="#111" stroke-width="0.15" textLength="22.0" lengthAdjust="spacingAndGlyphs">331.69</text></g>
<line x1="505.80" y1="191.50" x2="517.80" y2="189.60" stroke="#333" stroke-width="0.8" />
<g transform="translate(655.40 72.20) rotate(-81.0)"><text x="0" y="2.64" font-size="8" text-anchor="middle" fill="#111" stroke="#111" stroke-width="0.15" textLength="22.0" lengthAdjust="spacingAndGlyphs">729.27</text></g>
<line x1="651.10" y1="52.10" x2="656.10" y2="60.80" stroke="#333" stroke-width="0.8" />
<line x1="462.30" y1="219.10" x2="476.40" y2="219.10" stroke="#444" stroke-width="1.1" />
<text x="478.30" y="221.70" font-size="8.5" text-anchor="start" fill="#111" textLength="27.6" lengthAdjust="spacingAndGlyphs" >new leather</text>
<line x1="462.30" y1="226.60" x2="476.40" y2="226.60" stroke="#f22" stroke-width="1.1" />
<text x="478.30" y="229.20" font-size="8.5" text-anchor="start" fill="#111" textLength="13.5" lengthAdjust="spacingAndGlyphs" >Old 1</text>
<line x1="462.30" y1="234.10" x2="476.40" y2="234.10" stroke="#22f" stroke-width="1.1" />
<text x="478.30" y="236.70" font-size="8.5" text-anchor="start" fill="#111" textLength="13.5" lengthAdjust="spacingAndGlyphs" >Old 2</text>
<line x1="462.30" y1="242.10" x2="476.40" y2="242.10" stroke="#2e2" stroke-width="1.1" />
<text x="478.30" y="244.70" font-size="8.5" text-anchor="start" fill="#111" textLength="13.5" lengthAdjust="spacingAndGlyphs" >Old 3</text>
<text x="527.00" y="283.00" font-size="11.5" text-anchor="middle" fill="#111" font-weight="bold" textLength="84.0" lengthAdjust="spacingAndGlyphs" font-family="Liberation Serif, Noto Serif CJK SC, serif">Temperature(℃)</text>
<text transform="translate(356.6 170.1) rotate(-90)" font-size="11.5" font-weight="bold" fill="#111" textLength="80.4" lengthAdjust="spacingAndGlyphs">Derivative(wt%)</text>
<text x="368" y="12.3" font-size="14" fill="#333" letter-spacing="1.2">(b)</text>
<rect x="48.2" y="299.4" width="282.2" height="225.89999999999998" fill="none" stroke="#555" stroke-width="1.2"/>
<line x1="55.90" y1="525.30" x2="55.90" y2="529.80" stroke="#555" stroke-width="1" />
<text x="55.90" y="540.30" font-size="10" text-anchor="middle" fill="#222" >4000</text>
<line x1="95.10" y1="525.30" x2="95.10" y2="529.80" stroke="#555" stroke-width="1" />
<text x="95.10" y="540.30" font-size="10" text-anchor="middle" fill="#222" >3500</text>
<line x1="134.30" y1="525.30" x2="134.30" y2="529.80" stroke="#555" stroke-width="1" />
<text x="134.30" y="540.30" font-size="10" text-anchor="middle" fill="#222" >3000</text>
<line x1="173.50" y1="525.30" x2="173.50" y2="529.80" stroke="#555" stroke-width="1" />
<text x="173.50" y="540.30" font-size="10" text-anchor="middle" fill="#222" >2500</text>
<line x1="212.70" y1="525.30" x2="212.70" y2="529.80" stroke="#555" stroke-width="1" />
<text x="212.70" y="540.30" font-size="10" text-anchor="middle" fill="#222" >2000</text>
<line x1="251.90" y1="525.30" x2="251.90" y2="529.80" stroke="#555" stroke-width="1" />
<text x="251.90" y="540.30" font-size="10" text-anchor="middle" fill="#222" >1500</text>
<line x1="291.10" y1="525.30" x2="291.10" y2="529.80" stroke="#555" stroke-width="1" />
<text x="291.10" y="540.30" font-size="10" text-anchor="middle" fill="#222" >1000</text>
<line x1="330.30" y1="525.30" x2="330.30" y2="529.80" stroke="#555" stroke-width="1" />
<text x="328.80" y="540.30" font-size="10" text-anchor="middle" fill="#222" >500</text>
<line x1="75.50" y1="525.30" x2="75.50" y2="527.80" stroke="#555" stroke-width="1" />
<line x1="114.70" y1="525.30" x2="114.70" y2="527.80" stroke="#555" stroke-width="1" />
<line x1="153.90" y1="525.30" x2="153.90" y2="527.80" stroke="#555" stroke-width="1" />
<line x1="193.10" y1="525.30" x2="193.10" y2="527.80" stroke="#555" stroke-width="1" />
<line x1="232.30" y1="525.30" x2="232.30" y2="527.80" stroke="#555" stroke-width="1" />
<line x1="271.50" y1="525.30" x2="271.50" y2="527.80" stroke="#555" stroke-width="1" />
<line x1="310.70" y1="525.30" x2="310.70" y2="527.80" stroke="#555" stroke-width="1" />
<path d="M56.16,356.34 C56.32,356.24 57.57,355.17 58.04,355.09 C58.51,355.00 61.34,355.29 61.81,355.34 C62.28,355.39 63.43,355.79 63.69,355.72 C63.96,355.64 64.69,354.43 64.95,354.46 C65.21,354.49 66.41,356.04 66.83,356.09 C67.25,356.14 69.40,355.28 69.97,355.09 C70.55,354.90 73.11,353.85 73.74,353.83 C74.37,353.81 77.03,354.61 77.50,354.84 C77.97,355.07 79.04,356.66 79.39,356.59 C79.73,356.53 81.33,354.10 81.65,354.08 C81.96,354.06 82.82,355.97 83.15,356.34 C83.49,356.72 85.25,358.71 85.66,358.60 C86.08,358.50 87.65,355.46 88.18,355.09 C88.70,354.71 91.11,354.10 91.94,354.08 C92.78,354.06 97.17,354.77 98.22,354.84 C99.27,354.90 103.66,354.61 104.50,354.84 C105.33,355.07 107.64,357.13 108.26,357.60 C108.89,358.07 111.35,360.51 112.03,360.49 C112.71,360.47 115.59,357.85 116.42,357.35 C117.26,356.85 121.29,354.70 122.07,354.46 C122.86,354.22 125.16,354.36 125.84,354.46 C126.52,354.56 129.55,355.72 130.23,355.72 C130.91,355.72 133.43,354.46 134.00,354.46 C134.58,354.46 136.62,355.30 137.14,355.72 C137.66,356.13 139.81,359.48 140.28,359.48 C140.75,359.48 142.32,356.00 142.79,355.72 C143.26,355.43 145.51,356.23 145.93,356.09 C146.35,355.96 147.13,354.24 147.81,354.08 C148.49,353.93 152.83,354.18 154.09,354.21 C155.34,354.24 161.78,354.47 162.88,354.46 C163.97,354.45 166.64,354.03 167.27,354.08 C167.90,354.14 169.83,355.08 170.41,355.09 C170.98,355.10 173.23,354.26 174.18,354.21 C175.12,354.16 181.00,353.97 181.71,354.46 C182.42,354.95 182.56,359.01 182.71,360.11 C182.87,361.21 183.41,366.75 183.59,367.64 C183.77,368.53 184.59,370.73 184.85,370.78 C185.11,370.83 186.36,369.06 186.73,368.27 C187.10,367.49 188.82,362.31 189.24,361.37 C189.66,360.42 191.33,357.37 191.75,356.97 C192.17,356.57 193.90,356.49 194.26,356.59 C194.63,356.70 195.83,358.33 196.15,358.23 C196.46,358.12 197.66,355.44 198.03,355.34 C198.40,355.23 200.12,356.59 200.54,356.97 C200.96,357.35 202.58,359.44 203.05,359.86 C203.52,360.28 205.67,362.02 206.19,361.99 C206.71,361.96 208.81,359.87 209.33,359.48 C209.85,359.09 212.05,357.48 212.47,357.35 C212.89,357.21 213.99,357.78 214.35,357.85 C214.72,357.92 216.39,358.20 216.86,358.23 C217.33,358.26 219.32,358.38 220.00,358.23 C220.68,358.07 224.19,356.58 225.02,356.34 C225.86,356.10 229.26,355.50 230.04,355.34 C230.83,355.18 233.97,354.32 234.44,354.46 C234.91,354.60 235.48,355.87 235.69,356.97 C235.90,358.07 236.69,365.60 236.95,367.64 C237.21,369.68 238.49,379.65 238.83,381.45 C239.18,383.25 240.78,388.92 241.09,389.24 C241.41,389.55 242.32,386.39 242.60,385.22 C242.88,384.05 244.22,376.27 244.48,375.18 C244.74,374.08 245.53,372.04 245.74,372.04 C245.95,372.04 246.75,374.44 246.99,375.18 C247.23,375.91 248.36,380.83 248.63,380.83 C248.89,380.83 249.85,376.69 250.13,375.18 C250.41,373.66 251.75,364.21 252.02,362.62 C252.28,361.03 253.06,356.41 253.27,356.09 C253.48,355.78 254.26,358.26 254.53,358.85 C254.79,359.45 256.10,362.99 256.41,363.25 C256.72,363.51 257.98,361.78 258.29,361.99 C258.61,362.20 259.86,365.76 260.18,365.76 C260.49,365.76 261.69,362.52 262.06,361.99 C262.43,361.47 264.15,360.06 264.57,359.48 C264.99,358.91 266.71,355.54 267.08,355.09 C267.45,354.64 268.65,354.14 268.96,354.08 C269.28,354.03 270.53,354.11 270.85,354.46 C271.16,354.81 272.42,357.76 272.73,358.23 C273.04,358.70 274.35,359.33 274.61,360.11 C274.88,360.89 275.61,366.28 275.87,367.64 C276.13,369.00 277.44,375.18 277.75,376.43 C278.07,377.69 279.32,381.35 279.64,382.71 C279.95,384.07 281.36,391.72 281.52,392.75 C281.68,393.78 281.31,394.23 281.52,395.04 C281.73,395.86 283.61,401.58 284.03,402.58 C284.45,403.57 286.07,406.43 286.54,406.97 C287.01,407.52 289.16,409.05 289.68,409.11 C290.20,409.16 292.35,408.25 292.82,407.60 C293.29,406.95 294.91,402.16 295.33,401.32 C295.75,400.48 297.48,398.69 297.84,397.55 C298.20,396.42 299.36,390.22 299.66,387.73 C299.97,385.24 301.29,370.31 301.55,367.64 C301.81,364.97 302.63,356.78 302.80,355.72 C302.98,354.65 303.53,354.63 303.68,354.84 C303.84,355.05 304.52,358.05 304.69,358.23 C304.85,358.40 305.53,355.77 305.69,356.97 C305.85,358.17 306.39,370.15 306.57,372.66 C306.75,375.18 307.62,386.27 307.83,387.10 C308.03,387.94 308.82,384.33 309.08,382.71 C309.34,381.09 310.65,370.00 310.96,367.64 C311.28,365.29 312.62,355.35 312.85,354.46 C313.08,353.57 313.57,355.66 313.73,356.97 C313.88,358.28 314.54,368.85 314.73,370.15 C314.92,371.46 315.72,373.08 315.99,372.66 C316.25,372.25 317.56,366.28 317.87,365.13 C318.18,363.98 319.49,359.48 319.75,358.85 C320.01,358.23 320.80,357.49 321.01,357.60 C321.22,357.70 322.11,359.69 322.26,360.11 C322.42,360.53 322.84,362.41 322.89,362.62" fill="none" stroke="#f11" stroke-width="0.85" stroke-linejoin="round" />
<path d="M56.16,406.59 C56.37,406.68 58.31,407.67 58.67,407.60 C59.04,407.53 60.24,405.72 60.55,405.72 C60.87,405.72 62.12,407.32 62.44,407.60 C62.75,407.88 64.01,409.26 64.32,409.11 C64.64,408.95 65.89,405.89 66.20,405.72 C66.52,405.54 67.72,406.71 68.09,406.97 C68.45,407.23 70.18,408.80 70.60,408.85 C71.02,408.91 72.74,407.60 73.11,407.60 C73.48,407.60 74.63,409.01 74.99,408.85 C75.36,408.70 77.19,405.35 77.50,405.72 C77.82,406.08 78.55,412.52 78.76,413.25 C78.97,413.98 79.81,414.92 80.02,414.50 C80.22,414.09 81.01,408.80 81.27,408.23 C81.53,407.65 82.89,407.28 83.15,407.60 C83.42,407.91 84.20,411.63 84.41,411.99 C84.62,412.36 85.43,412.41 85.66,411.99 C85.89,411.57 86.91,407.28 87.17,406.97 C87.43,406.66 88.51,408.20 88.80,408.23 C89.10,408.26 90.37,407.30 90.69,407.35 C91.00,407.40 92.26,408.83 92.57,408.85 C92.88,408.88 94.14,407.72 94.45,407.60 C94.77,407.47 96.02,407.24 96.34,407.35 C96.65,407.45 97.91,408.78 98.22,408.85 C98.53,408.93 99.79,408.07 100.10,408.23 C100.42,408.38 101.62,410.42 101.99,410.74 C102.35,411.05 104.13,411.89 104.50,411.99 C104.86,412.10 106.07,411.68 106.38,411.99 C106.69,412.31 107.93,415.21 108.26,415.76 C108.60,416.31 109.98,418.51 110.40,418.65 C110.82,418.78 112.84,417.68 113.29,417.39 C113.74,417.10 115.38,415.40 115.80,415.13 C116.22,414.86 117.89,414.44 118.31,414.13 C118.73,413.81 120.32,412.07 120.82,411.37 C121.32,410.66 123.86,406.01 124.33,405.72 C124.80,405.42 126.08,407.61 126.47,407.85 C126.86,408.09 128.56,408.65 128.98,408.60 C129.40,408.56 131.07,407.62 131.49,407.35 C131.91,407.08 133.64,405.32 134.00,405.34 C134.37,405.36 135.57,407.25 135.88,407.60 C136.20,407.94 137.42,408.98 137.77,409.48 C138.11,409.98 139.71,413.57 140.03,413.63 C140.34,413.68 141.28,410.61 141.53,410.11 C141.78,409.61 142.78,407.70 143.04,407.60 C143.30,407.49 144.38,408.96 144.67,408.85 C144.96,408.75 146.24,406.60 146.55,406.34 C146.87,406.08 148.07,405.80 148.44,405.72 C148.80,405.63 150.58,405.20 150.95,405.34 C151.32,405.47 152.47,407.26 152.83,407.35 C153.20,407.43 154.92,406.48 155.34,406.34 C155.76,406.21 157.49,405.61 157.85,405.72 C158.22,405.82 159.37,407.39 159.74,407.60 C160.10,407.81 161.83,408.25 162.25,408.23 C162.67,408.21 164.34,407.35 164.76,407.35 C165.18,407.35 166.90,408.36 167.27,408.23 C167.64,408.09 168.84,405.96 169.15,405.72 C169.47,405.47 170.62,405.23 171.04,405.34 C171.46,405.44 173.65,406.87 174.18,406.97 C174.70,407.08 176.79,406.54 177.31,406.59 C177.84,406.65 179.98,407.31 180.45,407.60 C180.92,407.89 182.55,409.64 182.96,410.11 C183.38,410.58 185.11,412.78 185.48,413.25 C185.84,413.72 187.04,415.69 187.36,415.76 C187.67,415.83 188.93,414.13 189.24,414.13 C189.56,414.13 190.81,415.45 191.12,415.76 C191.44,416.07 192.69,418.03 193.01,417.89 C193.32,417.76 194.63,414.20 194.89,414.13 C195.15,414.05 195.94,416.41 196.15,417.02 C196.36,417.62 197.14,421.83 197.40,421.41 C197.66,420.99 198.97,412.41 199.29,411.99 C199.60,411.57 200.85,415.81 201.17,416.39 C201.48,416.96 202.69,418.64 203.05,418.90 C203.42,419.16 205.20,419.76 205.56,419.53 C205.93,419.30 207.15,416.50 207.45,416.14 C207.74,415.77 208.82,415.82 209.08,415.13 C209.34,414.44 210.30,408.16 210.59,407.85 C210.87,407.54 212.15,411.33 212.47,411.37 C212.78,411.40 214.04,408.33 214.35,408.23 C214.67,408.12 215.76,409.85 216.23,410.11 C216.71,410.37 219.37,411.31 220.00,411.37 C220.63,411.42 223.30,411.05 223.77,410.74 C224.24,410.42 225.23,407.81 225.65,407.60 C226.07,407.39 228.27,408.38 228.79,408.23 C229.31,408.07 231.40,405.82 231.93,405.72 C232.45,405.61 234.70,406.29 235.07,406.97 C235.43,407.65 236.06,411.73 236.32,413.88 C236.58,416.02 237.89,429.78 238.20,432.71 C238.52,435.64 239.77,447.30 240.09,449.03 C240.40,450.76 241.66,453.63 241.97,453.42 C242.28,453.22 243.54,447.67 243.85,446.52 C244.17,445.37 245.44,439.82 245.74,439.61 C246.03,439.40 247.11,443.33 247.37,444.01 C247.63,444.69 248.59,448.51 248.88,447.77 C249.16,447.04 250.50,437.42 250.76,435.22 C251.02,433.02 251.81,423.06 252.02,421.41 C252.22,419.76 253.03,415.28 253.27,415.38 C253.51,415.49 254.64,421.59 254.90,422.66 C255.16,423.74 256.13,428.21 256.41,428.31 C256.69,428.42 257.98,423.92 258.29,423.92 C258.61,423.92 259.86,428.21 260.18,428.31 C260.49,428.42 261.77,425.75 262.06,425.18 C262.35,424.60 263.45,421.36 263.69,421.41 C263.93,421.46 264.74,426.12 264.95,425.80 C265.16,425.49 265.97,419.16 266.20,417.64 C266.43,416.13 267.43,408.62 267.71,407.60 C267.99,406.57 269.30,405.39 269.59,405.34 C269.88,405.29 270.98,406.05 271.22,406.97 C271.46,407.89 272.25,416.18 272.48,416.39 C272.71,416.60 273.76,409.69 273.99,409.48 C274.22,409.27 274.98,413.30 275.24,413.88 C275.50,414.45 276.81,415.81 277.12,416.39 C277.44,416.96 278.69,419.84 279.01,420.78 C279.32,421.72 280.63,426.17 280.89,427.69 C281.15,429.20 281.89,437.21 282.15,438.99 C282.41,440.76 283.72,447.69 284.03,449.03 C284.34,450.37 285.61,454.29 285.91,455.06 C286.22,455.82 287.34,457.87 287.70,458.20 C288.06,458.53 289.77,459.06 290.20,459.00 C290.62,458.94 292.48,457.83 292.80,457.50 C293.12,457.17 293.76,455.87 294.02,455.06 C294.27,454.25 295.55,448.49 295.90,447.77 C296.24,447.06 297.84,447.46 298.16,446.52 C298.47,445.58 299.38,438.78 299.66,436.48 C299.95,434.17 301.29,421.20 301.55,418.90 C301.81,416.60 302.54,409.95 302.80,408.85 C303.07,407.76 304.45,405.77 304.69,405.72 C304.93,405.66 305.53,407.02 305.69,408.23 C305.85,409.43 306.39,418.53 306.57,420.15 C306.75,421.78 307.58,427.58 307.83,427.69 C308.07,427.79 309.20,422.14 309.46,421.41 C309.72,420.68 310.68,420.00 310.96,418.90 C311.25,417.80 312.62,408.96 312.85,408.23 C313.08,407.49 313.57,409.22 313.73,410.11 C313.88,411.00 314.52,417.80 314.73,418.90 C314.94,420.00 315.98,423.03 316.24,423.29 C316.50,423.55 317.58,422.19 317.87,422.04 C318.16,421.88 319.49,421.83 319.75,421.41 C320.01,420.99 320.75,417.85 321.01,417.02 C321.27,416.18 322.73,411.84 322.89,411.37" fill="none" stroke="#22e" stroke-width="0.85" stroke-linejoin="round" />
<path d="M56.16,458.54 C56.37,458.40 58.20,457.07 58.67,456.91 C59.14,456.74 61.23,456.50 61.81,456.53 C62.39,456.56 65.00,457.18 65.58,457.28 C66.15,457.39 68.19,457.82 68.72,457.78 C69.24,457.75 71.38,457.03 71.85,456.91 C72.33,456.78 73.89,456.28 74.37,456.28 C74.84,456.28 77.09,456.75 77.50,456.91 C77.92,457.06 79.10,457.69 79.39,458.16 C79.67,458.63 80.66,461.46 80.89,462.55 C81.12,463.65 81.94,469.77 82.15,471.34 C82.36,472.91 83.16,479.71 83.40,481.39 C83.65,483.06 84.74,489.97 85.04,491.43 C85.33,492.90 86.55,497.92 86.92,498.96 C87.29,500.01 88.96,503.34 89.43,503.99 C89.90,504.63 92.05,506.43 92.57,506.75 C93.09,507.06 95.03,507.65 95.71,507.75 C96.39,507.86 99.79,507.98 100.73,508.00 C101.67,508.02 106.17,508.05 107.01,508.00 C107.85,507.96 110.15,507.73 110.77,507.50 C111.40,507.27 113.97,505.74 114.54,505.24 C115.12,504.74 117.21,502.21 117.68,501.48 C118.15,500.74 119.84,497.39 120.19,496.45 C120.54,495.51 121.59,491.17 121.88,490.18 C122.18,489.18 123.48,485.10 123.77,484.53 C124.05,483.95 125.01,483.22 125.27,483.27 C125.53,483.32 126.63,484.89 126.91,485.15 C127.18,485.42 128.28,486.72 128.54,486.41 C128.80,486.10 129.79,482.64 130.04,481.39 C130.30,480.13 131.32,472.62 131.55,471.34 C131.78,470.07 132.60,466.54 132.81,466.07 C133.02,465.60 133.87,465.25 134.06,465.69 C134.25,466.13 134.83,469.93 135.07,471.34 C135.31,472.76 136.64,480.86 136.95,482.64 C137.26,484.42 138.57,491.43 138.83,492.69 C139.09,493.94 139.88,497.81 140.09,497.71 C140.30,497.60 141.16,492.79 141.34,491.43 C141.53,490.07 142.19,482.59 142.35,481.39 C142.50,480.18 143.05,477.39 143.23,476.99 C143.40,476.60 144.27,476.46 144.48,476.62 C144.69,476.77 145.56,479.73 145.74,478.88 C145.92,478.02 146.46,467.94 146.62,466.32 C146.77,464.70 147.43,460.17 147.62,459.42 C147.81,458.66 148.46,457.52 148.88,457.28 C149.29,457.04 152.07,456.53 152.64,456.53 C153.22,456.53 155.15,457.25 155.78,457.28 C156.41,457.31 159.18,456.94 160.18,456.91 C161.17,456.87 166.45,456.91 167.71,456.91 C168.96,456.91 174.20,456.91 175.24,456.91 C176.29,456.91 179.69,456.98 180.26,456.91 C180.84,456.83 181.83,455.85 182.15,456.03 C182.46,456.20 183.72,458.83 184.03,459.04 C184.34,459.25 185.55,458.75 185.91,458.54 C186.28,458.33 188.01,456.70 188.42,456.53 C188.84,456.36 190.36,456.47 190.94,456.53 C191.51,456.59 194.07,457.22 195.33,457.28 C196.59,457.34 204.48,457.31 206.00,457.28 C207.52,457.25 212.28,456.91 213.53,456.91 C214.79,456.91 219.97,457.23 221.07,457.28 C222.16,457.33 226.09,457.30 226.72,457.53 C227.34,457.76 228.28,459.00 228.60,460.04 C228.91,461.09 230.17,467.79 230.48,470.09 C230.80,472.39 232.05,485.15 232.37,487.66 C232.68,490.18 233.93,498.49 234.25,500.22 C234.56,501.95 235.77,507.44 236.13,508.38 C236.50,509.32 238.17,511.34 238.64,511.52 C239.11,511.70 241.38,511.04 241.78,510.51 C242.18,509.99 243.17,506.05 243.41,505.24 C243.65,504.44 244.46,500.85 244.67,500.85 C244.88,500.85 245.72,504.56 245.92,505.24 C246.13,505.92 246.90,508.80 247.18,509.01 C247.46,509.22 249.00,508.49 249.31,507.75 C249.63,507.02 250.74,501.89 250.95,500.22 C251.16,498.55 251.68,489.50 251.83,487.66 C251.97,485.83 252.55,478.25 252.70,478.25 C252.86,478.25 253.52,485.83 253.71,487.66 C253.90,489.50 254.78,498.96 254.96,500.22 C255.15,501.48 255.76,503.15 255.97,502.73 C256.18,502.31 257.25,495.98 257.48,495.20 C257.71,494.41 258.52,493.31 258.73,493.31 C258.94,493.31 259.78,495.67 259.99,495.20 C260.20,494.73 261.03,489.70 261.24,487.66 C261.45,485.62 262.31,471.76 262.50,470.72 C262.69,469.67 263.33,474.22 263.50,475.11 C263.67,476.00 264.33,481.49 264.51,481.39 C264.68,481.28 265.41,474.95 265.64,473.85 C265.87,472.76 267.03,468.10 267.27,468.20 C267.51,468.31 268.29,473.59 268.52,475.11 C268.75,476.63 269.75,484.79 270.03,486.41 C270.31,488.03 271.65,494.47 271.91,494.57 C272.17,494.67 272.96,488.82 273.17,487.66 C273.38,486.51 274.22,481.39 274.42,480.76 C274.63,480.13 275.47,480.50 275.68,480.13 C275.89,479.77 276.73,476.42 276.94,476.37 C277.14,476.31 277.98,479.35 278.19,479.50 C278.40,479.66 279.24,478.14 279.45,478.25 C279.66,478.35 280.49,479.77 280.70,480.76 C280.91,481.75 281.75,488.55 281.96,490.18 C282.17,491.80 282.97,499.12 283.21,500.22 C283.45,501.32 284.57,503.36 284.84,503.36 C285.12,503.36 286.19,500.36 286.48,500.22 C286.78,500.08 288.05,501.94 288.37,501.73 C288.68,501.52 289.93,499.40 290.25,497.71 C290.56,496.01 291.85,483.90 292.13,481.39 C292.41,478.88 293.38,469.30 293.64,467.58 C293.90,465.85 294.98,461.51 295.27,460.67 C295.56,459.83 296.84,457.95 297.15,457.53 C297.47,457.11 298.78,455.49 299.04,455.65 C299.30,455.81 300.11,458.76 300.29,459.42 C300.47,460.08 301.01,463.61 301.17,463.56 C301.33,463.51 301.99,459.31 302.18,458.79 C302.36,458.27 303.22,457.18 303.43,457.28 C303.64,457.39 304.48,459.19 304.69,460.04 C304.90,460.90 305.71,466.37 305.94,467.58 C306.17,468.78 307.19,474.22 307.45,474.48 C307.71,474.74 308.84,471.13 309.08,470.72 C309.32,470.30 310.07,469.36 310.34,469.46 C310.60,469.56 311.87,471.66 312.22,471.97 C312.56,472.28 314.11,473.38 314.48,473.23 C314.85,473.07 316.23,470.82 316.61,470.09 C317.00,469.36 318.71,465.38 319.12,464.44 C319.54,463.50 321.43,459.26 321.64,458.79" fill="none" stroke="#1e1" stroke-width="0.85" stroke-linejoin="round" />
<g transform="translate(97.80 371.40) rotate(-88.0)"><text x="0" y="2.64" font-size="8" text-anchor="middle" fill="#111" stroke="#111" stroke-width="0.15" textLength="20.0" lengthAdjust="spacingAndGlyphs">3281.18</text></g>
<line x1="102.00" y1="361.60" x2="110.10" y2="359.90" stroke="#333" stroke-width="0.8" />
<g transform="translate(151.60 376.40) rotate(-87.0)"><text x="0" y="2.64" font-size="8" text-anchor="middle" fill="#111" stroke="#111" stroke-width="0.15" textLength="19.0" lengthAdjust="spacingAndGlyphs">2922.11</text></g>
<line x1="141.50" y1="360.10" x2="148.80" y2="365.80" stroke="#333" stroke-width="0.8" />
<g transform="translate(229.80 382.10) rotate(-86.0)"><text x="0" y="2.64" font-size="8" text-anchor="middle" fill="#111" stroke="#111" stroke-width="0.15" textLength="19.0" lengthAdjust="spacingAndGlyphs">1637.39</text></g>
<line x1="234.40" y1="382.70" x2="238.80" y2="387.10" stroke="#333" stroke-width="0.8" />
<g transform="translate(245.10 357.00) rotate(-82.6)"><text x="0" y="2.64" font-size="8" text-anchor="middle" fill="#111" stroke="#111" stroke-width="0.15" textLength="19.5" lengthAdjust="spacingAndGlyphs">1544.09</text></g>
<line x1="245.50" y1="368.30" x2="246.40" y2="372.70" stroke="#333" stroke-width="0.8" />
<g transform="translate(258.90 385.20) rotate(-86.0)"><text x="0" y="2.64" font-size="8" text-anchor="middle" fill="#111" stroke="#111" stroke-width="0.15" textLength="19.2" lengthAdjust="spacingAndGlyphs">1394.32</text></g>
<line x1="259.50" y1="368.30" x2="259.50" y2="374.50" stroke="#333" stroke-width="0.8" />
<g transform="translate(269.60 373.90) rotate(-82.4)"><text x="0" y="2.64" font-size="8" text-anchor="middle" fill="#111" stroke="#111" stroke-width="0.15" textLength="19.0" lengthAdjust="spacingAndGlyphs">1239.64</text></g>
<line x1="270.80" y1="360.70" x2="271.50" y2="363.90" stroke="#333" stroke-width="0.8" />
<g transform="translate(289.40 389.00) rotate(-83.7)"><text x="0" y="2.64" font-size="8" text-anchor="middle" fill="#111" stroke="#111" stroke-width="0.15" textLength="19.5" lengthAdjust="spacingAndGlyphs">1028.49</text></g>
<line x1="289.70" y1="399.70" x2="289.70" y2="404.00" stroke="#333" stroke-width="0.8" />
<g transform="translate(103.20 427.40) rotate(-88.5)"><text x="0" y="2.64" font-size="8" text-anchor="middle" fill="#111" stroke="#111" stroke-width="0.15" textLength="19.0" lengthAdjust="spacingAndGlyphs">3297.14</text></g>
<line x1="109.80" y1="421.20" x2="107.30" y2="426.40" stroke="#333" stroke-width="0.8" />
<g transform="translate(150.60 423.30) rotate(-86.0)"><text x="0" y="2.64" font-size="8" text-anchor="middle" fill="#111" stroke="#111" stroke-width="0.15" textLength="19.0" lengthAdjust="spacingAndGlyphs">2920.26</text></g>
<line x1="141.80" y1="415.10" x2="146.60" y2="422.40" stroke="#333" stroke-width="0.8" />
<g transform="translate(230.00 437.10) rotate(-79.0)"><text x="0" y="2.64" font-size="8" text-anchor="middle" fill="#111" stroke="#111" stroke-width="0.15" textLength="19.5" lengthAdjust="spacingAndGlyphs">1626.96</text></g>
<line x1="234.40" y1="448.40" x2="240.70" y2="452.20" stroke="#333" stroke-width="0.8" />
<g transform="translate(245.50 422.00) rotate(-84.0)"><text x="0" y="2.64" font-size="8" text-anchor="middle" fill="#111" stroke="#111" stroke-width="0.15" textLength="19.0" lengthAdjust="spacingAndGlyphs">1541.64</text></g>
<line x1="246.10" y1="432.10" x2="248.20" y2="446.50" stroke="#333" stroke-width="0.8" />
<g transform="translate(265.80 440.20) rotate(-85.0)"><text x="0" y="2.64" font-size="8" text-anchor="middle" fill="#111" stroke="#111" stroke-width="0.15" textLength="19.0" lengthAdjust="spacingAndGlyphs">1323.42</text></g>
<line x1="265.40" y1="425.80" x2="265.80" y2="430.20" stroke="#333" stroke-width="0.8" />
<g transform="translate(275.00 435.20) rotate(-81.5)"><text x="0" y="2.64" font-size="8" text-anchor="middle" fill="#111" stroke="#111" stroke-width="0.15" textLength="19.3" lengthAdjust="spacingAndGlyphs">1239.64</text></g>
<line x1="273.40" y1="418.90" x2="275.20" y2="425.20" stroke="#333" stroke-width="0.8" />
<g transform="translate(289.40 437.10) rotate(-84.0)"><text x="0" y="2.64" font-size="8" text-anchor="middle" fill="#111" stroke="#111" stroke-width="0.15" textLength="19.2" lengthAdjust="spacingAndGlyphs">1030.95</text></g>
<line x1="289.70" y1="448.40" x2="289.70" y2="453.40" stroke="#333" stroke-width="0.8" />
<g transform="translate(80.90 508.40) rotate(-88.0)"><text x="0" y="2.64" font-size="8" text-anchor="middle" fill="#111" stroke="#111" stroke-width="0.15" textLength="19.0" lengthAdjust="spacingAndGlyphs">3414.33</text></g>
<line x1="86.30" y1="508.10" x2="99.50" y2="507.80" stroke="#555" stroke-width="0.9" />
<g transform="translate(130.30 502.70) rotate(-87.0)"><text x="0" y="2.64" font-size="8" text-anchor="middle" fill="#111" stroke="#111" stroke-width="0.15" textLength="19.2" lengthAdjust="spacingAndGlyphs">2928.24</text></g>
<line x1="134.80" y1="502.50" x2="138.60" y2="499.00" stroke="#333" stroke-width="0.8" />
<g transform="translate(152.40 494.60) rotate(-87.0)"><text x="0" y="2.64" font-size="8" text-anchor="middle" fill="#111" stroke="#111" stroke-width="0.15" textLength="19.2" lengthAdjust="spacingAndGlyphs">2853.35</text></g>
<line x1="146.10" y1="479.90" x2="148.60" y2="483.60" stroke="#333" stroke-width="0.8" />
<g transform="translate(226.70 493.90) rotate(-82.4)"><text x="0" y="2.64" font-size="8" text-anchor="middle" fill="#111" stroke="#111" stroke-width="0.15" textLength="19.0" lengthAdjust="spacingAndGlyphs">1661.33</text></g>
<line x1="230.50" y1="505.20" x2="236.80" y2="510.30" stroke="#333" stroke-width="0.8" />
<g transform="translate(244.90 485.80) rotate(-82.4)"><text x="0" y="2.64" font-size="8" text-anchor="middle" fill="#111" stroke="#111" stroke-width="0.15" textLength="19.0" lengthAdjust="spacingAndGlyphs">1534.53</text></g>
<line x1="245.50" y1="497.10" x2="246.20" y2="502.70" stroke="#333" stroke-width="0.8" />
<g transform="translate(264.00 498.30) rotate(-87.0)"><text x="0" y="2.64" font-size="8" text-anchor="middle" fill="#111" stroke="#111" stroke-width="0.15" textLength="15.8" lengthAdjust="spacingAndGlyphs">1335.4</text></g>
<line x1="264.40" y1="482.00" x2="264.40" y2="489.50" stroke="#333" stroke-width="0.8" />
<g transform="translate(275.10 509.00) rotate(-85.6)"><text x="0" y="2.64" font-size="8" text-anchor="middle" fill="#111" stroke="#111" stroke-width="0.15" textLength="16.4" lengthAdjust="spacingAndGlyphs">1242.1</text></g>
<line x1="272.80" y1="497.50" x2="274.80" y2="500.20" stroke="#333" stroke-width="0.8" />
<g transform="translate(285.50 482.60) rotate(-84.3)"><text x="0" y="2.64" font-size="8" text-anchor="middle" fill="#111" stroke="#111" stroke-width="0.15" textLength="19.0" lengthAdjust="spacingAndGlyphs">1084.35</text></g>
<line x1="284.80" y1="493.90" x2="284.80" y2="499.60" stroke="#333" stroke-width="0.8" />
<g transform="translate(299.70 506.50) rotate(-81.0)"><text x="0" y="2.64" font-size="8" text-anchor="middle" fill="#111" stroke="#111" stroke-width="0.15" textLength="16.0" lengthAdjust="spacingAndGlyphs">1033.4</text></g>
<line x1="290.20" y1="502.70" x2="295.30" y2="505.90" stroke="#333" stroke-width="0.8" />
<line x1="193.00" y1="309.70" x2="211.40" y2="309.70" stroke="#f22" stroke-width="1.1" />
<text x="213.70" y="312.50" font-size="8" text-anchor="start" fill="#222" textLength="17.8" lengthAdjust="spacingAndGlyphs" >Old 1</text>
<line x1="193.00" y1="319.70" x2="211.40" y2="319.70" stroke="#33f" stroke-width="1.1" />
<text x="213.70" y="322.50" font-size="8" text-anchor="start" fill="#222" textLength="17.8" lengthAdjust="spacingAndGlyphs" >Old 2</text>
<line x1="193.00" y1="329.80" x2="211.40" y2="329.80" stroke="#3e3" stroke-width="1.1" />
<text x="213.70" y="332.60" font-size="8" text-anchor="start" fill="#222" textLength="17.8" lengthAdjust="spacingAndGlyphs" >Old 3</text>
<text x="188.2" y="560.3" font-size="11.5" font-weight="bold" fill="#111" text-anchor="middle" letter-spacing="0.12">Wavenumber/cm<tspan font-size="7.5" dy="-4.5">-1</tspan></text>
<text transform="translate(29.7 455.2) rotate(-90)" font-size="11.5" font-weight="bold" fill="#111" textLength="86.4" lengthAdjust="spacingAndGlyphs">% Transmittance</text>
<text x="22" y="291" font-size="14" fill="#333" letter-spacing="1.2">(c)</text>
</svg>
</body></html>
